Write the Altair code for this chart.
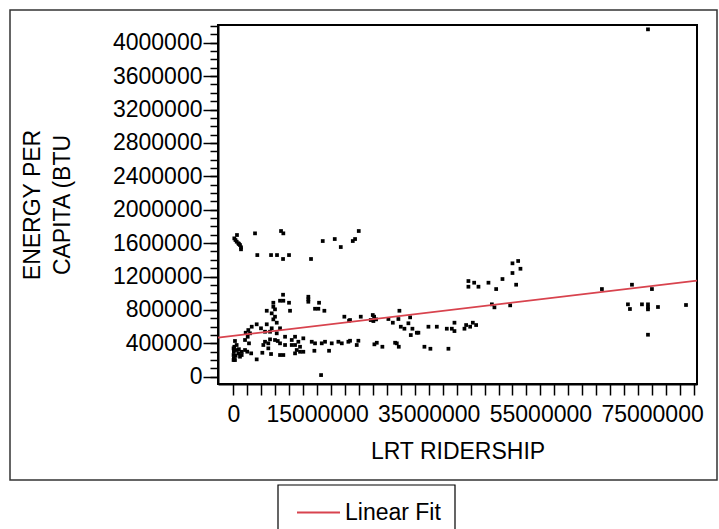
import altair as alt
import pandas as pd

# LRT ridership (riders per year) and energy per capita (BTU)
ridership = [
    74.27e6,
    0.18e6, 0.66e6, 0.61e6, 0.90e6, 1.20e6, 1.38e6, 1.38e6, 0.39e6, 1.02e6, 3.89e6,
    4.30e6, 6.76e6, 7.83e6, 8.55e6, 8.96e6, 8.91e6, 9.98e6, 13.92e6, 16.02e6, 18.17e6,
    19.25e6, 21.40e6, 21.81e6, 22.47e6,
    8.91e6, 8.37e6, 8.96e6, 9.98e6, 13.44e6, 13.44e6, 13.44e6, 15.36e6, 14.64e6, 15.23e6,
    16.31e6, 7.17e6, 7.17e6, 5.99e6, 7.47e6, 6.88e6, 7.47e6, 7.17e6, 10.16e6, 7.78e6,
    19.89e6, 20.73e6, 4.19e6, 5.99e6, 3.30e6, 4.96e6, 6.88e6, 8.37e6, 2.69e6, 2.22e6,
    2.99e6, 7.78e6, 5.68e6, 6.58e6,
    0.30e6, 2.10e6, 2.58e6, 2.81e6, 5.68e6, 6.58e6, 7.47e6, 7.96e6, 9.27e6, 10.47e6,
    11.06e6, 11.65e6, 12.54e6, 5.38e6, 6.27e6, 8.37e6, 9.27e6, 10.47e6, 11.06e6, 11.95e6,
    14.05e6, 14.64e6, 15.84e6, 16.43e6, 17.63e6, 18.82e6, 19.43e6, 20.61e6,
    0.05e6, 0.10e6, 0.05e6, 0.10e6, 0.61e6, 0.90e6, 1.20e6, 0.30e6, 1.51e6, 2.10e6,
    0.05e6, 0.18e6, 4.19e6, 5.20e6, 6.27e6, 6.76e6, 8.37e6, 8.96e6, 11.06e6, 11.36e6,
    11.95e6, 12.54e6, 14.52e6, 17.15e6, 15.72e6,
    0.60e6, 1.00e6, 1.50e6, 0.40e6, 2.50e6, 3.20e6,
    20.91e6, 22.83e6, 24.98e6, 25.22e6, 24.62e6, 25.57e6, 25.09e6, 27.78e6, 28.57e6, 29.75e6,
    29.57e6, 31.67e6, 31.36e6, 30.00e6, 30.65e6, 32.08e6, 31.79e6, 32.87e6, 33.15e6, 34.95e6,
    36.45e6, 38.24e6, 39.14e6, 39.61e6, 39.61e6, 41.40e6, 41.70e6, 42.42e6, 42.90e6, 43.49e6,
    20.91e6, 22.40e6, 22.11e6, 25.27e6, 25.70e6, 26.70e6, 28.98e6, 29.28e6, 29.64e6, 34.23e6,
    35.30e6, 38.53e6,
    42.11e6, 42.11e6, 43.14e6, 43.91e6, 45.70e6, 47.08e6, 48.21e6, 50.00e6, 51.02e6, 50.00e6,
    51.43e6, 50.66e6, 46.31e6, 46.77e6, 49.59e6,
    66.02e6, 71.40e6, 70.68e6, 71.04e6, 73.19e6, 74.27e6, 74.27e6, 74.27e6, 76.06e6, 74.98e6,
    74.27e6, 81.08e6,
]
energy = [
    4160000,
    1657000, 1697000, 1617000, 1598000, 1577000, 1550000, 1526000, 1637000, 1589000, 1717000,
    1457000, 1457000, 1457000, 1745000, 1717000, 1410000, 1457000, 1410000, 1625000, 1649000,
    1553000, 1625000, 1649000, 1745000,
    982000, 910000, 910000, 886000, 958000, 927000, 898000, 886000, 814000, 814000,
    790000, 886000, 838000, 790000, 807000, 759000, 719000, 687000, 790000, 647000,
    719000, 671000, 628000, 628000, 599000, 580000, 580000, 580000, 559000, 527000,
    520000, 520000, 539000, 539000,
    428000, 440000, 479000, 400000, 419000, 448000, 440000, 428000, 479000, 440000,
    479000, 419000, 460000, 380000, 400000, 400000, 380000, 380000, 380000, 359000,
    419000, 400000, 400000, 419000, 400000, 419000, 400000, 419000,
    340000, 299000, 260000, 220000, 320000, 280000, 240000, 200000, 299000, 320000,
    200000, 359000, 208000, 287000, 340000, 272000, 260000, 260000, 280000, 320000,
    299000, 299000, 311000, 311000, 20000,
    380000, 330000, 260000, 250000, 300000, 280000,
    679000, 719000, 739000, 719000, 679000, 687000, 667000, 691000, 647000, 790000,
    691000, 711000, 640000, 599000, 575000, 575000, 499000, 527000, 527000, 599000,
    599000, 575000, 575000, 647000, 547000, 575000, 619000, 599000, 647000, 619000,
    431000, 431000, 380000, 388000, 407000, 359000, 407000, 400000, 359000, 359000,
    335000, 335000,
    1146000, 1078000, 1126000, 1078000, 1126000, 1050000, 1170000, 1358000, 1386000, 1242000,
    1293000, 1102000, 867000, 831000, 855000,
    1050000, 1102000, 867000, 811000, 867000, 867000, 831000, 807000, 835000, 1050000,
    503000, 859000,
]

# Linear fit line, end points read across the plot
fit_x = [-2.74e6, 83.05e6]
fit_y = [469000, 1150000]
fit_name = ["Linear Fit", "Linear Fit"]

x_ticks = [i * 2500000 for i in range(34)]
x_labelled = [0, 15000000, 35000000, 55000000, 75000000]
y_major = [i * 400000 for i in range(11)]
y_minor = [i * 100000 for i in range(43)]

FONT = "Liberation Sans"

pts = pd.DataFrame({"x": ridership, "y": energy})
fit = pd.DataFrame({"x": fit_x, "y": fit_y, "series": fit_name})
frame = pd.DataFrame({"k": [1]})

xscale = alt.Scale(domain=[-2.74e6, 83.05e6], nice=False, zero=False)
yscale = alt.Scale(domain=[-87000, 4212000], nice=False, zero=False)

label_test = "indexof(" + str(x_labelled) + ", datum.value) >= 0 ? datum.label : ''"
xaxis = alt.Axis(
    values=x_ticks, format="d", labelExpr=label_test, labelOverlap=False,
    tickSize=11, tickWidth=1.5, tickColor="black", labelPadding=8,
    labelFont=FONT, labelFontSize=23, labelColor="black",
    domainColor="black", domainWidth=2, grid=False,
    title="LRT RIDERSHIP", titleFont=FONT, titleFontSize=23, titleFontWeight="normal",
    titleColor="black", titleBaseline="alphabetic", titleY=74, titleX=239.5,
    titleAlign="center",
)

points = alt.Chart(pts).mark_square(size=14, color="black", opacity=1).encode(
    x=alt.X("x:Q", scale=xscale, axis=xaxis),
    y=alt.Y("y:Q", scale=yscale, axis=alt.Axis(
        orient="left", values=y_major, format="d", tickSize=15, tickWidth=1.5,
        tickColor="black", labelPadding=1, labelFont=FONT, labelFontSize=23,
        labelColor="black", domainColor="black", domainWidth=2, grid=False,
        title=["ENERGY PER", "CAPITA (BTU"], titleFont=FONT, titleFontSize=23,
        titleFontWeight="normal", titleColor="black", titleAngle=270,
        titleAlign="center", titleBaseline="middle", titleLineHeight=30,
        titleX=-186, titleY=179.5,
    )),
)

line = alt.Chart(fit).mark_line(strokeWidth=1.8).encode(
    x=alt.X("x:Q", scale=xscale, axis=xaxis),
    y=alt.Y("y:Q", scale=yscale, axis=alt.Axis(
        orient="left", values=y_minor, labels=False, tickSize=8, tickWidth=1.5,
        tickColor="black", domain=False, grid=False, title=None,
    )),
    color=alt.Color("series:N", scale=alt.Scale(domain=["Linear Fit"], range=["#d8434e"]),
                    legend=alt.Legend(
                        title=None, orient="none", legendX=60, legendY=460,
                        padding=5, symbolOffset=13,
                        symbolType="stroke",
                        symbolSize=1849, symbolStrokeWidth=1.8, labelFont=FONT,
                        labelFontSize=23, labelColor="black", labelOffset=4,
                    )),
)

outer = alt.Chart(frame).mark_rect(filled=False, stroke="#333333", strokeWidth=1.5).encode(
    x=alt.value(-208), x2=alt.value(499), y=alt.value(-15), y2=alt.value(455),
)

legend_box = alt.Chart(frame).mark_rect(filled=False, stroke="black", strokeWidth=1.2).encode(
    x=alt.value(60), x2=alt.value(237), y=alt.value(460), y2=alt.value(520),
)

chart = alt.layer(outer, legend_box, points, line).resolve_axis(y="independent").resolve_scale(
    y="shared"
).properties(
    width=479, height=359,
    autosize=alt.AutoSizeParams(type="none"),
    padding={"left": 218, "top": 25, "right": 22, "bottom": 145},
).configure_view(stroke="black", strokeWidth=2)

chart.save("out.html", embed_options={"renderer": "svg", "actions": False})
